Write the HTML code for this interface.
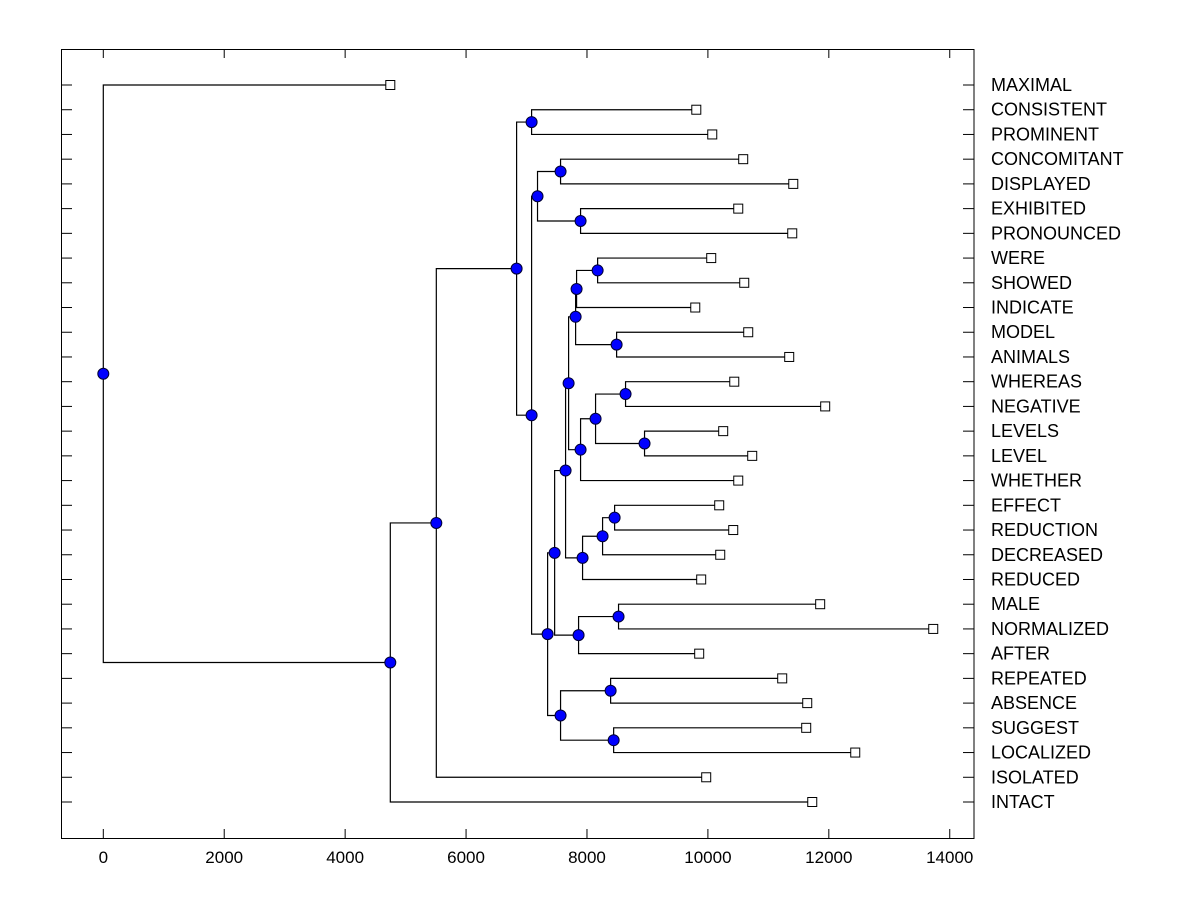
<!DOCTYPE html>
<html><head><meta charset="utf-8"><style>
body{margin:0;background:#fff;}
svg text{font-family:"Liberation Sans",Arial,sans-serif;font-size:17px;fill:#000;}
svg text.leaf{font-size:18px;}
</style></head><body>
<svg id="chart" width="1200" height="900" xmlns="http://www.w3.org/2000/svg">
<rect x="61.5" y="49.5" width="912.5" height="789" fill="#fff" stroke="#000" stroke-width="1"/>
<g id="axes"></g><g id="links"></g><g id="marks"></g>
</svg>
<script>
const labels=["MAXIMAL","CONSISTENT","PROMINENT","CONCOMITANT","DISPLAYED","EXHIBITED","PRONOUNCED","WERE","SHOWED","INDICATE","MODEL","ANIMALS","WHEREAS","NEGATIVE","LEVELS","LEVEL","WHETHER","EFFECT","REDUCTION","DECREASED","REDUCED","MALE","NORMALIZED","AFTER","REPEATED","ABSENCE","SUGGEST","LOCALIZED","ISOLATED","INTACT"];
const leafValues=[4747,9808,10072,10584,11412,10502,11395,10055,10601,9791,10667,11345,10436,11940,10253,10733,10502,10187,10419,10204,9889,11857,13727,9856,11229,11643,11626,12437,9972,11726];
const mergeLeft=[1,3,5,31,7,34,10,35,12,14,38,40,37,17,43,44,42,21,47,46,24,26,50,49,33,30,55,56,0];
const mergeRight=[2,4,6,32,8,9,11,36,13,15,39,16,41,18,19,20,45,22,23,48,25,27,51,52,53,54,28,29,57];
const mergeHeight=[7084,7563,7894,7182,8176,7828,8490,7812,8638,8952,8142,7894,7696,8457,8258,7927,7646,8522,7861,7465,8391,8441,7563,7349,7084,6836,5508,4747,0];
const xTicks=[0,2000,4000,6000,8000,10000,12000,14000];

const NS="http://www.w3.org/2000/svg";
const X=v=>103.3+v*0.06046;
const Y=i=>85+i*(802-85)/29;
function mk(tag,attrs,parent){const e=document.createElementNS(NS,tag);for(const k in attrs)e.setAttribute(k,attrs[k]);document.getElementById(parent).appendChild(e);return e;}
const N=labels.length;
const pos=[];
for(let i=0;i<N;i++)pos.push({x:X(leafValues[i]),y:Y(i)});
for(let m=0;m<mergeHeight.length;m++){
  const a=pos[mergeLeft[m]],b=pos[mergeRight[m]],x=X(mergeHeight[m]);
  pos.push({x:x,y:(a.y+b.y)/2});
  const p=mk('path',{d:`M${a.x},${a.y}H${x}V${b.y}H${b.x}`,fill:'none',stroke:'#000','stroke-width':1.2},'links');
  
  
}
for(let i=0;i<N;i++){
  const y=Y(i);
  const t1=mk('line',{x1:62,x2:72,y1:y,y2:y,stroke:'#000'},'axes');
  
  
  const t2=mk('line',{x1:963,x2:974,y1:y,y2:y,stroke:'#000'},'axes');
  
  
  const tx=mk('text',{x:991,y:y+6,'class':'leaf'},'axes');tx.textContent=labels[i];
  
  
  const sq=mk('rect',{x:pos[i].x-4.5,y:y-4.5,width:9,height:9,fill:'#fff',stroke:'#000'},'marks');
  
  
}
for(const v of xTicks){
  const x=X(v);
  const b=mk('line',{x1:x,x2:x,y1:829,y2:838,stroke:'#000'},'axes');
  
  
  const t=mk('line',{x1:x,x2:x,y1:50,y2:58,stroke:'#000'},'axes');
  
  
  const l=mk('text',{x:x,y:863,'text-anchor':'middle'},'axes');l.textContent=v;
  
  
}
for(let k=N;k<pos.length;k++){
  const c=mk('circle',{cx:pos[k].x,cy:pos[k].y,r:5.5,fill:'#0000ff',stroke:'#000033','stroke-width':1},'marks');
  
  
}
</script>
</body></html>
